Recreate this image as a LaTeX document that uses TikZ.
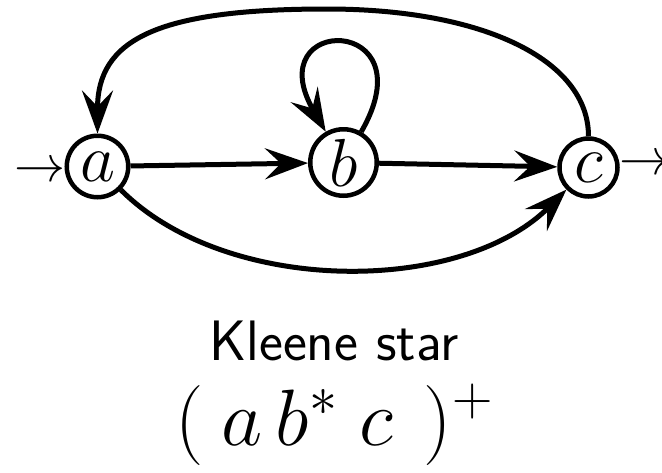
\RequirePackage{fix-cm}
\documentclass[tikz,border=0pt]{standalone}
\usetikzlibrary{arrows.meta}
\begin{document}
\begin{tikzpicture}[x=1pt,y=1pt,
  state/.style={circle, draw, line width=4.5pt, inner sep=0pt, font=\fontsize{68}{72}\selectfont},
  edge/.style={line width=5pt, -{Stealth[length=43pt,width=31pt,inset=16pt]}},
  glyph/.style={inner sep=0pt, font=\fontsize{51}{55}\selectfont},
  ]
\useasboundingbox (0,0) rectangle (662,-472);
\node[state, minimum size=61.5pt] (a) at (97.5,-166.5) {$a$};
\node[state, minimum size=66.5pt] (b) at (343.5,-162.5) {$b$};
\node[state, minimum size=58pt] (c) at (588.5,-167.5) {$c$};
\coordinate (top) at (327,-9);
\node[glyph] (init) at (39.5,-172) {$\rightarrow$};
\node[glyph] (fin) at (644.5,-165) {$\rightarrow$};
\draw[edge] (a) -- (b);
\draw[edge] (b) -- (c);
\draw[edge] (a) to[out=-45,in=-135,looseness=0.86] (c);
\draw[edge] (b.60) .. controls +(60:136) and +(120:136) .. (b.120);
\draw[edge] (c.north) .. controls +(0,76) and +(157,0) .. (top)
  .. controls +(-172,0) and +(0,93) .. (a.north);
\node[anchor=base, font=\sffamily\fontsize{57}{60}\selectfont] (lab) at (334,-360) {Kleene star};
\node[anchor=base, font=\fontsize{80}{84}\selectfont] (expr) at (334,-445) {$(\kern18pt a\,b^*\;c\kern30pt)^+$};
\end{tikzpicture}
\end{document}
